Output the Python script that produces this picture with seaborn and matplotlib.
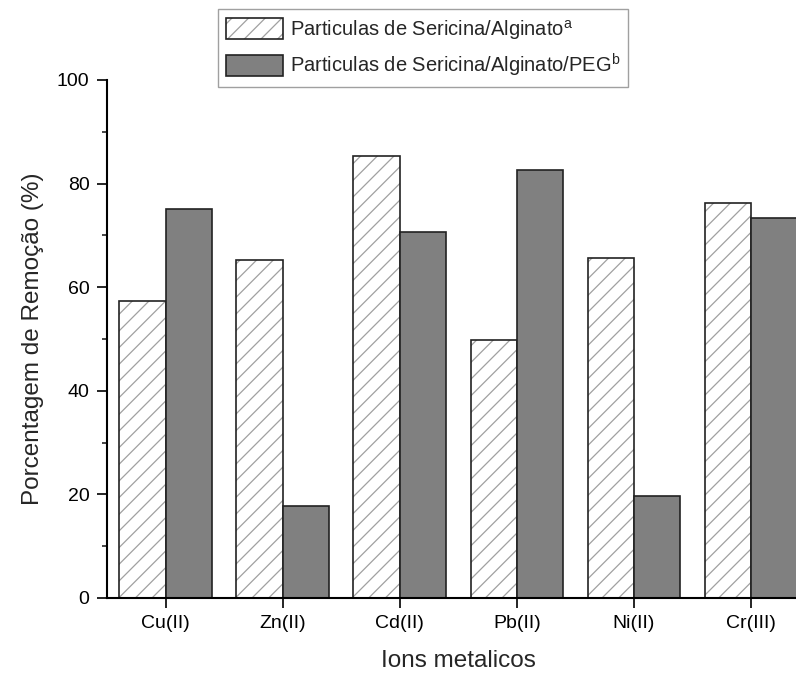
import matplotlib
matplotlib.use("Agg")
import matplotlib.pyplot as plt
import matplotlib.colors as mcolors
from matplotlib.patches import Patch
from matplotlib.ticker import MultipleLocator
import pandas as pd
import seaborn as sns

ions = ["Cu(II)", "Zn(II)", "Cd(II)", "Pb(II)", "Ni(II)", "Cr(III)"]
series = ["Particulas de Sericina/Alginato$^{a}$",
          "Particulas de Sericina/Alginato/PEG$^{b}$"]
seric_alg = [57.3, 65.3, 85.3, 49.8, 65.6, 76.3]
seric_alg_peg = [75.1, 17.8, 70.7, 82.6, 19.7, 73.4]

df = pd.DataFrame({
    "ion": ions * 2,
    "serie": [series[0]] * len(ions) + [series[1]] * len(ions),
    "remocao": seric_alg + seric_alg_peg,
})

sns.set_style("ticks")
plt.rcParams["font.family"] = ["Liberation Sans", "DejaVu Sans"]
plt.rcParams["mathtext.default"] = "regular"
plt.rcParams["hatch.linewidth"] = 0.9

fig = plt.figure(figsize=(7.96, 6.75), dpi=100)
ax = fig.add_axes([0.1344, 0.1141, 0.8827, 0.7674])

sns.barplot(data=df, x="ion", y="remocao", hue="serie", order=ions,
            palette=["white", "#808080"], edgecolor="#222222", linewidth=1.2,
            width=0.79, gap=0, saturation=1, legend=False, ax=ax)

# hatched bars: light grey hatch lines, dark outline
hatch_gray = mcolors.to_rgba("#a0a0a0")
for p in ax.patches[:len(ions)]:
    p.set_hatch("//")
    p._hatch_color = hatch_gray

ax.set_xlim(-0.5, 5.5)
ax.set_ylim(0, 100)
ax.yaxis.set_major_locator(MultipleLocator(20))
ax.yaxis.set_minor_locator(MultipleLocator(10))
ax.tick_params(axis="both", which="major", length=7.5, width=1.2,
               labelsize=14, colors="black", pad=5)
ax.tick_params(axis="y", which="minor", length=3.6, width=1.2)
ax.tick_params(axis="x", which="minor", bottom=False)
for s in ["top", "right"]:
    ax.spines[s].set_visible(False)
for s in ["left", "bottom"]:
    ax.spines[s].set_linewidth(1.5)
    ax.spines[s].set_color("black")

ax.set_xlabel("Ions metalicos", fontsize=17.5, labelpad=13)
ax.set_ylabel("Porcentagem de Remoção (%)", fontsize=17.5, labelpad=9)

h1 = Patch(facecolor="white", edgecolor="#222222", hatch="//", linewidth=1.2)
h1._hatch_color = hatch_gray
h2 = Patch(facecolor="#808080", edgecolor="#222222", linewidth=1.2)
leg = fig.legend([h1, h2], series, loc="upper left",
                 bbox_to_anchor=(0.274, 0.986), fontsize=14.5, frameon=True,
                 fancybox=False, edgecolor="#888888", handlelength=2.8,
                 handleheight=1.25, handletextpad=0.35, borderpad=0.4,
                 labelspacing=0.5, borderaxespad=0)
leg.get_frame().set_linewidth(1.0)

fig.savefig("out.png", dpi=100)
